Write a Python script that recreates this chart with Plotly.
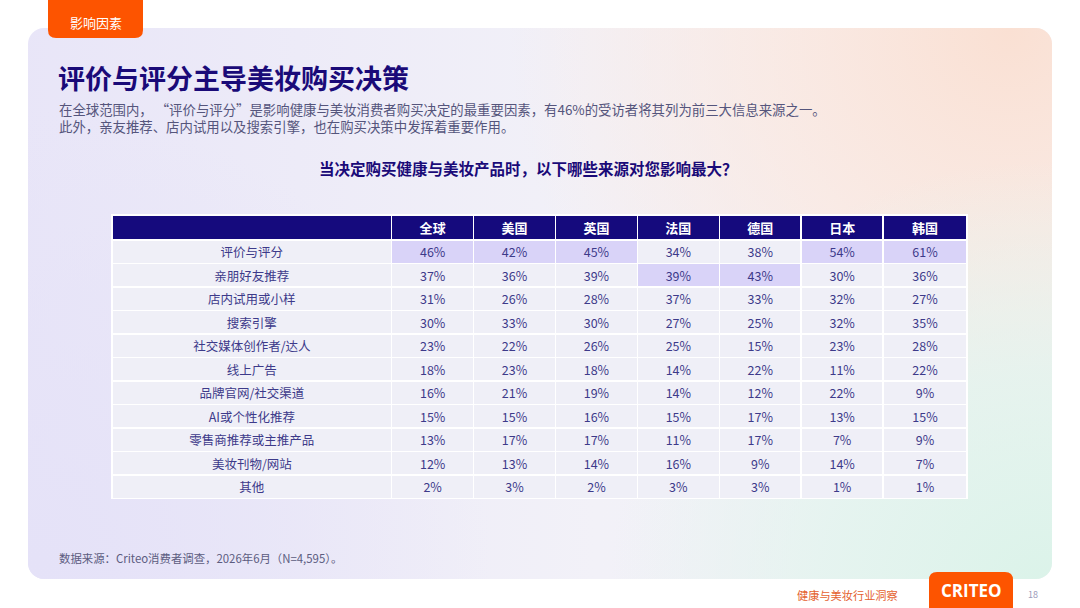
import base64
import plotly.graph_objects as go

# ---------------- data ----------------
categories = ['评价与评分', '亲朋好友推荐', '店内试用或小样', '搜索引擎', '社交媒体创作者/达人',
              '线上广告', '品牌官网/社交渠道', 'AI或个性化推荐', '零售商推荐或主推产品',
              '美妆刊物/网站', '其他']
markets = ['全球', '美国', '英国', '法国', '德国', '日本', '韩国']
global_vals = [46, 37, 31, 30, 23, 18, 16, 15, 13, 12, 2]
us_vals = [42, 36, 26, 33, 22, 23, 21, 15, 17, 13, 3]
uk_vals = [45, 39, 28, 30, 26, 18, 19, 16, 17, 14, 2]
fr_vals = [34, 39, 37, 27, 25, 14, 14, 15, 11, 16, 3]
de_vals = [38, 43, 33, 25, 15, 22, 12, 17, 17, 9, 3]
jp_vals = [54, 30, 32, 32, 23, 11, 22, 13, 7, 14, 1]
kr_vals = [61, 36, 27, 35, 28, 22, 9, 15, 9, 7, 1]
series = [global_vals, us_vals, uk_vals, fr_vals, de_vals, jp_vals, kr_vals]

W, H = 1080, 608
FONT = 'Noto Sans CJK SC'
NAVY = '#1a0a78'
CELL = '#efeff7'
HILITE = '#d9d3f8'


def px(x):
    return x / W


def py(y):
    return 1 - y / H


# ---------------- background (decorative) ----------------
svg = f"""<svg xmlns='http://www.w3.org/2000/svg' width='{W}' height='{H}' viewBox='0 0 {W} {H}'>
<defs>
<clipPath id='c'><rect x='28' y='28' width='1024' height='551' rx='16' ry='16'/></clipPath>
<linearGradient id='l' x1='0' y1='0' x2='1' y2='0'>
<stop offset='0' stop-color='#e8e5f8'/><stop offset='0.55' stop-color='#f2f1f8'/><stop offset='1' stop-color='#f4f2f4'/>
</linearGradient>
<radialGradient id='p' cx='1010' cy='30' r='500' gradientUnits='userSpaceOnUse'>
<stop offset='0' stop-color='#fae0d3'/><stop offset='0.5' stop-color='#fbe8e0' stop-opacity='0.75'/><stop offset='1' stop-color='#fbe8e0' stop-opacity='0'/>
</radialGradient>
<radialGradient id='g' cx='1040' cy='590' r='430' gradientUnits='userSpaceOnUse'>
<stop offset='0' stop-color='#dbf3e9'/><stop offset='0.5' stop-color='#e2f4ee' stop-opacity='0.8'/><stop offset='1' stop-color='#e2f4ee' stop-opacity='0'/>
</radialGradient>
<radialGradient id='v' cx='40' cy='560' r='450' gradientUnits='userSpaceOnUse'>
<stop offset='0' stop-color='#e5e2f8'/><stop offset='1' stop-color='#e5e2f8' stop-opacity='0'/>
</radialGradient>
</defs>
<g clip-path='url(#c)'>
<rect x='0' y='0' width='{W}' height='{H}' fill='url(#l)'/>
<rect x='0' y='0' width='{W}' height='{H}' fill='url(#v)'/>
<rect x='0' y='0' width='{W}' height='{H}' fill='url(#p)'/>
<rect x='0' y='0' width='{W}' height='{H}' fill='url(#g)'/>
</g>
</svg>"""
bg_uri = 'data:image/svg+xml;base64,' + base64.b64encode(svg.encode('utf-8')).decode('ascii')

# ---------------- table ----------------
col_max = [max(s) for s in series]
fills = [[CELL] * len(categories)]
for s, m in zip(series, col_max):
    fills.append([HILITE if v == m else CELL for v in s])

cell_values = [categories] + [[f'{v}%' for v in s] for s in series]

table = go.Table(
    domain=dict(x=[px(112), px(968)], y=[py(520), py(215)]),
    columnwidth=[280] + [82] * 6 + [84],
    header=dict(
        values=[''] + markets,
        fill_color='#150a7d',
        line=dict(color='white', width=1.5),
        font=dict(family=FONT, size=13, color='white', weight='bold'),
        align='center',
        height=25,
    ),
    cells=dict(
        values=cell_values,
        fill_color=fills,
        line=dict(color='white', width=1.5),
        font=dict(family=FONT, size=12.5, color='#3d3a8a'),
        align='center',
        height=23.5,
    ),
)

fig = go.Figure(table)

# ---------------- shapes ----------------
tag_path = (f"M {px(48)} {py(-2)} L {px(143)} {py(-2)} L {px(143)} {py(30)} "
            f"Q {px(143)} {py(38)} {px(135)} {py(38)} L {px(56)} {py(38)} "
            f"Q {px(48)} {py(38)} {px(48)} {py(30)} Z")
logo_path = (f"M {px(929)} {py(610)} L {px(929)} {py(580)} Q {px(929)} {py(572)} {px(937)} {py(572)} "
             f"L {px(1005)} {py(572)} Q {px(1013)} {py(572)} {px(1013)} {py(580)} L {px(1013)} {py(610)} Z")
shapes = [
    dict(type='path', xref='paper', yref='paper', path=tag_path, fillcolor='#fd5400', line_width=0),
    dict(type='path', xref='paper', yref='paper', path=logo_path, fillcolor='#fd5400', line_width=0),
]

# ---------------- texts ----------------
ann = []


def text(x, y, s, size, color, xanchor='left', bold=False, family=FONT):
    ann.append(dict(x=px(x), y=py(y), xref='paper', yref='paper', text=f'<b>{s}</b>' if bold else s,
                    showarrow=False, xanchor=xanchor, yanchor='middle', align='left',
                    font=dict(family=family, size=size, color=color)))


text(96, 22, '影响因素', 13, 'white', xanchor='center')
text(56, 78, '评价与评分主导美妆购买决策', 27, NAVY, bold=True)
text(57, 117.5, '在全球范围内， “评价与评分”是影响健康与美妆消费者购买决定的最重要因素，有46%的受访者将其列为前三大信息来源之一。'
     '<br>此外，亲友推荐、店内试用以及搜索引擎，也在购买决策中发挥着重要作用。',
     13.4, '#55557c')
text(528, 168, '当决定购买健康与美妆产品时，以下哪些来源对您影响最大？', 15.5, NAVY, xanchor='center', bold=True)
text(57, 558, '数据来源：Criteo消费者调查，2026年6月（N=4,595）。', 11.4, '#5c5c80')
text(795, 595, '健康与美妆行业洞察', 11.2, '#e4612f')
text(971, 590, 'CRITEO', 17, 'white', xanchor='center', bold=True, family='Open Sans')
text(1033, 594, '18', 9, '#9c9cba', xanchor='center')

fig.update_layout(
    width=W, height=H,
    margin=dict(l=0, r=0, t=0, b=0),
    paper_bgcolor='white',
    plot_bgcolor='white',
    images=[dict(source=bg_uri, xref='paper', yref='paper', x=0, y=1, sizex=1, sizey=1,
                 sizing='stretch', layer='below', xanchor='left', yanchor='top')],
    shapes=shapes,
    annotations=ann,
    showlegend=False,
)

fig.write_html('out.html',
               config={'displayModeBar': False},
               post_script="document.body.style.margin='0';document.body.style.overflow='hidden';")
